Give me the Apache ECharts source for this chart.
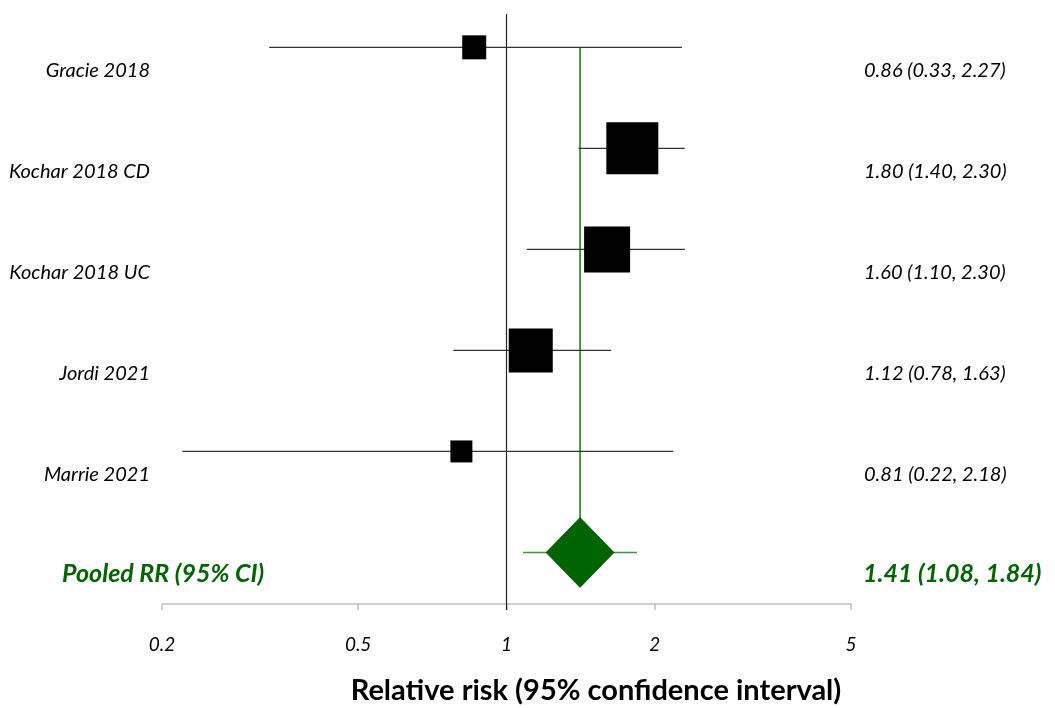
<!DOCTYPE html>
<html><head><meta charset="utf-8">
<script src="https://cdn.jsdelivr.net/npm/echarts@6/dist/echarts.min.js"></script>
<style>html,body{margin:0;padding:0;background:#fff}#c{width:1055px;height:708px}</style>
</head><body><div id="c"></div>
<script>
// ---- data ----
const studies = ['Gracie 2018', 'Kochar 2018 CD', 'Kochar 2018 UC', 'Jordi 2021', 'Marrie 2021'];
const rr      = [0.86, 1.80, 1.60, 1.12, 0.81];
const lower   = [0.33, 1.40, 1.10, 0.78, 0.22];
const upper   = [2.27, 2.30, 2.30, 1.63, 2.18];
const weights = [24, 52, 46, 44, 22];           // relative study weights (box size indicator)
const pooledName  = 'Pooled RR (95% CI)';
const pooledRR    = 1.41;
const pooledLower = 1.08;
const pooledUpper = 1.84;
const xTicks = [0.2, 0.5, 1, 2, 5];
const xTitle = 'Relative risk (95% confidence interval)';

const FONT = 'Lato';
const GREEN = '#006400';
const fmt = v => v.toFixed(2);

const chart = echarts.init(document.getElementById('c'), null, {renderer: 'canvas'});
const yMin = -0.33, yMax = 5.51;

const studyData = studies.map((s, i) => [i, rr[i], lower[i], upper[i], weights[i]]);

const option = {
  animation: false,
  grid: {left: 162, right: 204, top: 14, bottom: 104},
  xAxis: {
    type: 'log', logBase: 10, min: xTicks[0], max: xTicks[xTicks.length - 1],
    axisLine: {show: true, onZero: false, lineStyle: {color: '#bfbfbf', width: 1.5}},
    axisTick: {show: true, length: 6, customValues: xTicks, lineStyle: {color: '#bfbfbf', width: 1.5}},
    axisLabel: {customValues: xTicks, formatter: v => String(+(+v).toPrecision(3)), fontFamily: FONT, fontStyle: 'italic', fontSize: 19, color: '#000', margin: 31},
    splitLine: {show: false}
  },
  yAxis: {type: 'value', min: yMin, max: yMax, inverse: true, show: false},
  graphic: [{
    type: 'text', x: 596, y: 691,
    style: {text: xTitle, font: 'bold 29px ' + FONT, fill: '#000', align: 'center', verticalAlign: 'middle'}
  }],
  series: [
    { // reference lines
      type: 'custom', data: [[pooledRR]], silent: true,
      renderItem: (params, api) => {
        const top = api.coord([1, yMin]);
        const bot = api.coord([1, yMax]);
        const g0 = api.coord([pooledRR, 0]);
        const g1 = api.coord([pooledRR, studies.length]);
        return {type: 'group', children: [
          {type: 'line', shape: {x1: top[0], y1: top[1], x2: bot[0], y2: bot[1] + 6}, style: {stroke: '#222', lineWidth: 1.2}},
          {type: 'line', shape: {x1: g0[0], y1: g0[1], x2: g1[0], y2: g1[1]}, style: {stroke: '#1f7f1f', lineWidth: 1.6}}
        ]};
      }
    },
    { // studies
      type: 'custom', data: studyData, silent: true,
      dimensions: ['row', 'rr', 'lo', 'hi', 'w'],
      encode: {x: 1, y: 0},
      renderItem: (params, api) => {
        const i = api.value(0);
        const c = api.coord([api.value(1), i]);
        const lo = api.coord([api.value(2), i]);
        const hi = api.coord([api.value(3), i]);
        const s = api.value(4);
        const leftX = api.coord([xTicks[0], i])[0] - 12;
        const rightX = api.coord([xTicks[xTicks.length - 1], i])[0] + 13;
        return {type: 'group', children: [
          {type: 'line', shape: {x1: lo[0], y1: c[1], x2: hi[0], y2: c[1]}, style: {stroke: '#333', lineWidth: 1.2}},
          {type: 'rect', shape: {x: c[0] - s / 2, y: c[1] - s / 2, width: s, height: s}, style: {fill: '#000'}},
          {type: 'text', x: leftX, y: c[1] + 23, style: {text: studies[i], font: 'italic 20px ' + FONT, fill: '#000', align: 'right', verticalAlign: 'middle'}},
          {type: 'text', x: rightX, y: c[1] + 23, style: {text: fmt(rr[i]) + ' (' + fmt(lower[i]) + ', ' + fmt(upper[i]) + ')', font: 'italic 20px ' + FONT, fill: '#000', align: 'left', verticalAlign: 'middle'}}
        ]};
      }
    },
    { // pooled
      type: 'custom', data: [[studies.length, pooledRR, pooledLower, pooledUpper]], silent: true,
      encode: {x: 1, y: 0},
      renderItem: (params, api) => {
        const row = api.value(0);
        const c = api.coord([api.value(1), row]);
        const lo = api.coord([api.value(2), row]);
        const hi = api.coord([api.value(3), row]);
        const hw = 34, hh = 35;
        const leftX = api.coord([xTicks[0], row])[0] - 100;
        const rightX = api.coord([xTicks[xTicks.length - 1], row])[0] + 12;
        return {type: 'group', children: [
          {type: 'line', shape: {x1: lo[0], y1: c[1], x2: hi[0], y2: c[1]}, style: {stroke: '#3c963c', lineWidth: 1.5}},
          {type: 'polygon', shape: {points: [[c[0] - hw, c[1]], [c[0], c[1] - hh], [c[0] + hw, c[1]], [c[0], c[1] + hh]]}, style: {fill: GREEN, stroke: '#003000', lineWidth: 0.6}},
          {type: 'text', x: leftX, y: c[1] + 21, style: {text: pooledName, font: 'italic bold 25px ' + FONT, fill: GREEN, align: 'left', verticalAlign: 'middle'}},
          {type: 'text', x: rightX, y: c[1] + 21, style: {text: fmt(pooledRR) + ' (' + fmt(pooledLower) + ', ' + fmt(pooledUpper) + ')', font: 'italic bold 25px ' + FONT, fill: GREEN, align: 'left', verticalAlign: 'middle'}}
        ]};
      }
    }
  ]
};
chart.setOption(option);
</script></body></html>
